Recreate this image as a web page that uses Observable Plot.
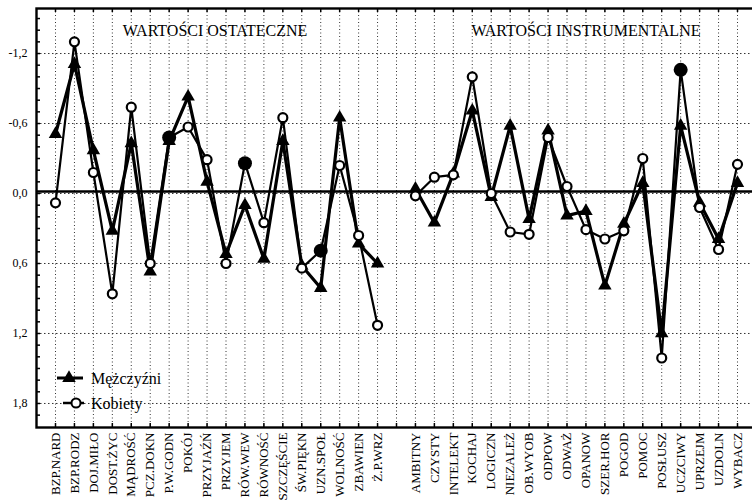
<!DOCTYPE html>
<html><head><meta charset="utf-8">
<script src="https://cdn.jsdelivr.net/npm/d3@7"></script>
<script src="https://cdn.jsdelivr.net/npm/@observablehq/plot@0.6"></script>
<style>body{margin:0;background:#fff} #chart svg{overflow:hidden;display:block}</style>
</head><body><div id="chart"></div>
<script>
// ---- data ----
const terminal = ["BZP.NARD","BZP.RODZ","DOJ.MIŁO","DOST.ŻYC","MĄDROŚĆ","PCZ.DOKN","P.W.GODN","POKÓJ","PRZYJAŹŃ","PRZYJEM","RÓW.WEW","RÓWNOŚĆ","SZCZĘŚCIE","ŚW.PIĘKN","UZN.SPOŁ","WOLNOŚĆ","ZBAWIEN","Ż.P.WRZ"];
const instrumental = ["AMBITNY","CZYSTY","INTELEKT","KOCHAJ","LOGICZN","NIEZALEŻ","OB.WYOB","ODPOW","ODWAŻ","OPANOW","SZER.HOR","POGOD","POMOC","POSŁUSZ","UCZCIWY","UPRZEJM","UZDOLN","WYBACZ"];
const menTerminal   = [-0.51,-1.11,-0.37,0.32,-0.43,0.67,-0.45,-0.83,-0.10,0.52,0.10,0.56,-0.45,0.62,0.81,-0.65,0.43,0.60];
const womenTerminal = [0.08,-1.30,-0.18,0.86,-0.74,0.60,-0.48,-0.57,-0.29,0.60,-0.26,0.25,-0.65,0.64,0.49,-0.24,0.36,1.13];
const menInstr      = [-0.04,0.25,-0.17,-0.71,0.03,-0.58,0.22,-0.54,0.19,0.15,0.79,0.26,-0.09,1.20,-0.58,0.08,0.39,-0.09];
const womenInstr    = [0.02,-0.14,-0.16,-1.00,0.00,0.33,0.35,-0.48,-0.06,0.31,0.39,0.32,-0.30,1.41,-1.06,0.12,0.48,-0.25];
const highlighted = ["P.W.GODN","RÓW.WEW","UZN.SPOŁ","UCZCIWY"];
const yTicks = [-1.2,-0.6,0,0.6,1.2,1.8];
const groupTitles = ["WARTOŚCI OSTATECZNE","WARTOŚCI INSTRUMENTALNE"];
const seriesNames = ["Mężczyźni","Kobiety"];

// ---- build ----
const gap = " ";
const xDomain = [...terminal, gap, ...instrumental];
const rows = [];
terminal.forEach((c,i)=>{rows.push({cat:c,group:0,sex:"M",v:menTerminal[i]});rows.push({cat:c,group:0,sex:"K",v:womenTerminal[i]});});
instrumental.forEach((c,i)=>{rows.push({cat:c,group:1,sex:"M",v:menInstr[i]});rows.push({cat:c,group:1,sex:"K",v:womenInstr[i]});});
const men = rows.filter(d=>d.sex==="M");
const women = rows.filter(d=>d.sex==="K");
const womenPlain = women.filter(d=>!highlighted.includes(d.cat));
const womenHi = women.filter(d=>highlighted.includes(d.cat));

const W=752,H=504,mL=36,mR=0,mT=8,mB=77;
const pW=W-mL-mR, pH=H-mT-mB;
const minor = d3.range(-15,20).map(i=>i/10);
const FONT="'Liberation Serif','Times New Roman',serif";

const plot = Plot.plot({
  width:W,height:H,marginLeft:mL,marginRight:mR,marginTop:mT,marginBottom:mB,
  style:{fontFamily:FONT,background:"#fff",color:"#000",fontSize:"12px"},
  x:{type:"point",domain:xDomain,range:[55,737],padding:0},
  y:{domain:[-1.586,2.006],reverse:true},
  marks:[
    Plot.ruleX(xDomain,{x:d=>d,stroke:"#333",strokeDasharray:"1,2.5"}),
    Plot.ruleY(yTicks,{stroke:"#333",strokeDasharray:"1.5,2.5"}),
    Plot.ruleY([0],{dy:-2,stroke:"#000",strokeWidth:2.4}),
    Plot.frame({stroke:"#000",strokeWidth:2.4,insetRight:-6}),
    Plot.ruleY(minor,{insetRight:pW-4,stroke:"#000",strokeWidth:1.5}),
    Plot.ruleX(xDomain,{x:d=>d,insetBottom:pH-4,stroke:"#000",strokeWidth:1.5}),
    Plot.ruleX(xDomain,{x:d=>d,insetTop:pH-4,stroke:"#000",strokeWidth:1.5}),
    Plot.line(women,{x:"cat",y:"v",z:"group",stroke:"#000",strokeWidth:2.2}),
    Plot.line(men,{x:"cat",y:"v",z:"group",stroke:"#000",strokeWidth:3.2}),
    Plot.dot(men,{x:"cat",y:"v",symbol:"triangle",r:5,fill:"#000"}),
    Plot.dot(womenPlain,{x:"cat",y:"v",r:4.5,fill:"#fff",stroke:"#000",strokeWidth:2.2}),
    Plot.dot(womenHi,{x:"cat",y:"v",r:7,fill:"#000"}),
    Plot.axisX({tickRotate:-90,tickSize:0,tickPadding:5,fontSize:13,label:null}),
    Plot.axisY({ticks:yTicks,tickFormat:d=>d.toFixed(1).replace(".",","),tickSize:0,tickPadding:9,fontSize:12,label:null}),
    Plot.text([groupTitles[0]],{text:d=>d,x:()=>"PRZYJAŹŃ",frameAnchor:"top",dx:8,dy:16,fontSize:16,fill:"#000"}),
    Plot.text([groupTitles[1]],{text:d=>d,x:()=>"OPANOW",frameAnchor:"top",dy:16,fontSize:16,fill:"#000"})
  ]
});
document.getElementById("chart").appendChild(plot);

// legend inside plot area, bottom-left
const svg = d3.select(plot);
const lg = svg.append("g").attr("font-family",FONT).attr("font-size",16).attr("text-anchor","start");
const r1 = lg.append("g").attr("transform","translate(0,378)");
r1.append("line").attr("x1",57).attr("x2",83).attr("stroke","#000").attr("stroke-width",3);
r1.append("path").attr("d",d3.symbol(d3.symbolTriangle,80)()).attr("transform","translate(69,0)").attr("fill","#000");
r1.append("text").attr("x",91).attr("dy","0.35em").attr("fill","#000").text(seriesNames[0]);
const r2 = lg.append("g").attr("transform","translate(0,403)");
r2.append("line").attr("x1",63).attr("x2",84).attr("stroke","#000").attr("stroke-width",2.5);
r2.append("circle").attr("cx",76).attr("r",4.5).attr("fill","#fff").attr("stroke","#000").attr("stroke-width",2);
r2.append("text").attr("x",91).attr("dy","0.35em").attr("fill","#000").text(seriesNames[1]);
</script></body></html>
